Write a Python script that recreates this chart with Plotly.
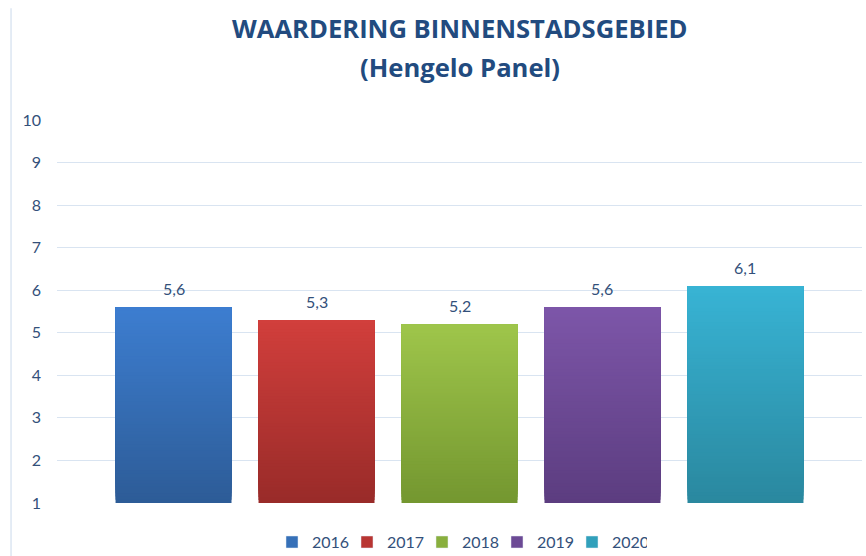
import plotly.graph_objects as go
import numpy as np

years = [2016, 2017, 2018, 2019, 2020]
values = [5.6, 5.3, 5.2, 5.6, 6.1]
labels = ["5,6", "5,3", "5,2", "5,6", "6,1"]
top_colors = ["#3d7ed1", "#d23f3c", "#9fc64b", "#7d56a9", "#38b4d5"]
bottom_colors = ["#2d5c97", "#992b29", "#749730", "#5c3d80", "#2a889f"]
mid_colors = ["#3670b8", "#b83532", "#89af3e", "#6c4a95", "#31a0bb"]
y_ticks = list(range(1, 11))
y_min, y_max = 1, 10
title_lines = ["WAARDERING BINNENSTADSGEBIED", "(Hengelo Panel)"]

N_SEG = 60
BAR_W = 0.811
TXT = "#33507a"


def hex_to_rgb(h):
    h = h.lstrip("#")
    return np.array([int(h[i:i + 2], 16) for i in (0, 2, 4)], dtype=float)


def blend(c0, c1, t):
    c = hex_to_rgb(c0) * (1 - t) + hex_to_rgb(c1) * t
    return "rgb(%d,%d,%d)" % tuple(np.round(c).astype(int))


fig = go.Figure()

# legend entries
for yr, mc in zip(years, mid_colors):
    fig.add_trace(go.Bar(x=[yr], y=[None], name=str(yr), marker_color=mc,
                         width=BAR_W, showlegend=True, hoverinfo="skip"))

# gradient-filled bars: overlapping segments, each reaching the bar top
for yr, v, tc, bc in zip(years, values, top_colors, bottom_colors):
    bases = np.linspace(y_min, v, N_SEG + 1)[:-1]
    heights = v - bases
    ts = (bases - y_min) / (v - y_min)
    cols = [blend(bc, tc, t) for t in ts]
    fig.add_trace(go.Bar(
        x=[yr] * N_SEG, y=heights, base=bases, width=BAR_W,
        marker=dict(color=cols, line=dict(width=0)),
        showlegend=False, hovertemplate=str(yr) + ": " + str(v) + "<extra></extra>"))

for yr, v, lab in zip(years, values, labels):
    fig.add_annotation(x=yr, y=v, xref="x", yref="y", text=lab, showarrow=False,
                       yanchor="bottom", yshift=7,
                       font=dict(family="Lato", size=16, color=TXT))

for ty, line in zip([1.2376, 1.1358], title_lines):
    fig.add_annotation(x=0.5, y=ty, xref="paper", yref="paper", text="<b>%s</b>" % line,
                       showarrow=False, xanchor="center", yanchor="middle",
                       font=dict(family="Open Sans", size=25.6, color="#224b7f"))

fig.add_shape(type="line", xref="paper", yref="paper", x0=-0.0571, x1=-0.0571,
              y0=-0.2, y1=1.292, line=dict(color="#dce6f2", width=1.5))

fig.update_layout(
    width=866, height=556,
    margin=dict(l=57, r=4, t=120, b=53, autoexpand=False),
    paper_bgcolor="white", plot_bgcolor="white",
    barmode="overlay",
    xaxis=dict(range=[years[0] - 0.815, years[-1] + 0.815], showticklabels=False,
               showgrid=False, zeroline=False, showline=False, ticks="", automargin=False),
    yaxis=dict(range=[y_min, y_max], tickvals=y_ticks, showgrid=True,
               gridcolor="#d9e4f1", gridwidth=1.2, zeroline=False, showline=False,
               ticks="", ticklabelstandoff=15, automargin=False,
               tickfont=dict(family="Lato", size=16, color=TXT)),
    legend=dict(orientation="h", x=0.5, xanchor="center", xref="paper",
                y=0.025, yanchor="middle", yref="container",
                font=dict(family="Lato", size=16, color=TXT),
                itemwidth=30, entrywidth=30, entrywidthmode="pixels"),
    showlegend=True,
)

fig.write_html("out.html", config={"displayModeBar": False},
               post_script="document.body.style.margin='0px';")
